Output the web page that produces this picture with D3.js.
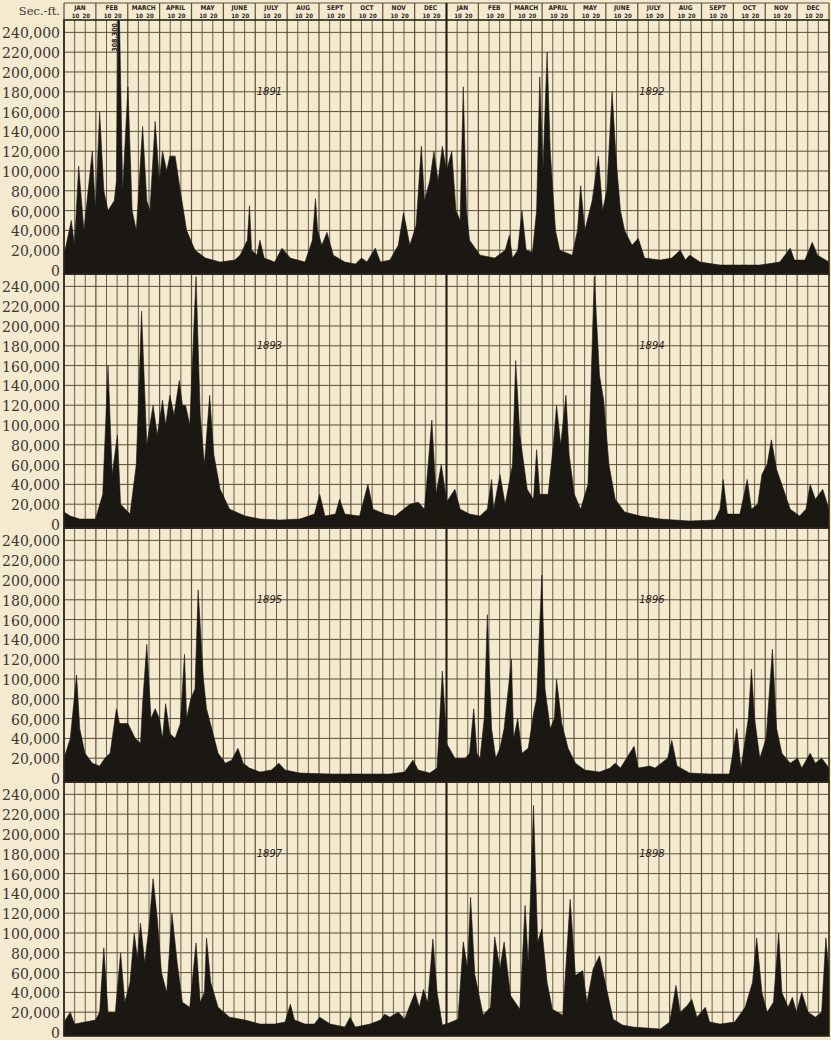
<!DOCTYPE html>
<html lang="en">
<head>
<meta charset="UTF-8">
<title>Daily discharge 1891-1898</title>
<style>
  body { margin:0; background:#f4ead0; }
  svg { display:block; }
</style>
</head>
<body>
<div class="chart"></div>
<script src="https://d3js.org/d3.v7.min.js"></script>
<script>
const months = ['JAN','FEB','MARCH','APRIL','MAY','JUNE','JULY','AUG','SEPT','OCT','NOV','DEC'];
const subTicks = ['10','20'];
const yTicks = [0,20000,40000,60000,80000,100000,120000,140000,160000,180000,200000,220000,240000];
const panelYears = [[1891,1892],[1893,1894],[1895,1896],[1897,1898]];

// [day of year, discharge in thousand sec-ft]
const flow1891 = [[0,15],[7,50],[10,25],[14,105],[19,40],[27,120],[30,60],[34,160],[38,80],[42,60],[48,70],[50,90],[52,308.3],[56,80],[61,185],[65,60],[69,40],[75,145],[79,70],[82,60],[87,150],[91,90],[94,120],[98,100],[101,115],[106,115],[111,80],[117,40],[125,20],[135,12],[149,8],[163,10],[168,15],[175,30],[177,65],[179,20],[184,15],[187,30],[191,12],[201,8],[208,22],[216,12],[230,8],[237,30],[240,72],[242,40],[246,25],[251,38],[257,15],[268,8],[278,6],[284,12],[289,8],[297,22],[302,8],[311,10],[319,25],[324,58],[330,25],[336,45],[341,125],[344,70],[349,90],[353,120],[357,90],[361,125],[365,100]];
const flow1892 = [[0,100],[5,120],[9,60],[13,50],[16,185],[19,60],[22,30],[32,15],[46,12],[56,20],[60,35],[63,12],[68,20],[72,60],[76,20],[82,18],[86,60],[89,195],[92,100],[96,220],[99,120],[104,40],[108,20],[120,15],[125,40],[128,85],[132,40],[139,70],[145,115],[149,60],[153,80],[158,180],[162,110],[166,60],[170,40],[177,25],[183,32],[189,12],[204,10],[215,12],[223,20],[228,10],[232,15],[242,8],[261,5],[299,5],[318,8],[328,22],[332,10],[342,10],[349,28],[354,15],[365,8]];
const flow1893 = [[0,12],[6,8],[15,5],[30,5],[37,30],[42,160],[46,50],[51,90],[54,20],[63,10],[69,60],[74,215],[79,80],[85,120],[89,90],[94,125],[97,100],[101,130],[105,110],[110,145],[113,120],[116,120],[120,100],[126,250],[130,110],[134,60],[139,130],[143,70],[149,35],[158,15],[173,8],[187,5],[206,4],[225,5],[239,10],[244,30],[249,8],[259,10],[263,25],[268,10],[282,8],[290,40],[295,15],[306,10],[316,8],[330,20],[338,22],[344,15],[351,105],[355,30],[360,60],[365,25]];
const flow1894 = [[0,22],[8,35],[13,15],[22,10],[32,8],[39,15],[43,45],[45,15],[51,50],[56,20],[63,60],[66,165],[70,90],[77,35],[83,25],[86,75],[89,30],[97,30],[102,80],[105,120],[109,80],[114,130],[117,70],[122,30],[128,15],[135,40],[141,250],[146,150],[150,125],[155,60],[161,25],[170,12],[185,8],[204,5],[232,3],[256,4],[261,15],[264,45],[268,10],[280,10],[287,45],[291,15],[297,20],[301,50],[306,60],[310,85],[315,55],[320,40],[328,15],[337,8],[343,15],[347,40],[352,25],[359,35],[365,15]];
const flow1895 = [[0,20],[6,40],[12,104],[15,50],[20,25],[27,15],[34,12],[39,20],[44,25],[50,70],[53,55],[61,55],[68,40],[73,35],[75,75],[79,135],[83,60],[87,70],[91,60],[94,40],[97,75],[101,45],[106,40],[111,55],[115,125],[117,60],[121,80],[125,90],[128,190],[133,100],[136,70],[141,50],[147,25],[154,15],[160,18],[166,30],[171,15],[177,10],[187,6],[198,8],[205,15],[211,8],[225,5],[254,4],[282,4],[311,4],[325,6],[333,18],[338,8],[349,5],[356,10],[361,108],[365,40]];
const flow1896 = [[0,35],[8,20],[18,20],[22,25],[26,70],[29,25],[32,20],[36,60],[39,165],[43,50],[47,20],[51,30],[55,50],[62,120],[64,40],[68,60],[72,25],[78,30],[83,65],[86,80],[91,205],[94,90],[99,50],[103,60],[105,100],[110,55],[116,30],[123,15],[132,8],[146,6],[156,10],[161,15],[166,10],[173,22],[179,32],[183,10],[194,12],[199,10],[211,20],[215,38],[220,12],[232,5],[251,4],[270,4],[277,50],[281,10],[288,60],[291,110],[294,60],[299,20],[305,40],[311,130],[315,50],[320,25],[328,15],[335,20],[339,10],[347,25],[352,15],[358,20],[365,10]];
const flow1897 = [[0,10],[6,20],[10,8],[20,10],[30,12],[34,20],[38,85],[42,20],[49,20],[54,80],[58,30],[63,50],[67,100],[70,75],[73,110],[77,70],[81,105],[85,155],[89,115],[93,60],[98,40],[103,120],[108,70],[113,30],[120,25],[126,90],[130,30],[134,40],[136,95],[140,50],[147,25],[158,15],[173,12],[187,8],[201,8],[211,10],[216,28],[220,12],[230,8],[239,8],[244,15],[254,8],[268,5],[273,15],[278,5],[292,8],[302,12],[306,18],[311,15],[319,20],[325,13],[335,40],[339,25],[343,43],[347,30],[352,94],[356,40],[361,7],[365,8]];
const flow1898 = [[0,8],[11,13],[16,91],[20,65],[23,136],[27,58],[35,17],[42,25],[46,96],[51,64],[55,91],[61,37],[70,23],[75,128],[78,70],[83,229],[87,91],[91,104],[96,50],[101,23],[111,17],[118,134],[123,57],[130,62],[134,30],[140,64],[146,77],[150,57],[159,13],[168,7],[178,5],[204,3],[213,10],[219,47],[223,20],[230,27],[234,33],[239,15],[247,25],[251,10],[261,8],[275,10],[285,25],[292,50],[296,95],[301,40],[306,20],[312,30],[317,100],[320,40],[326,25],[330,35],[334,20],[339,40],[345,20],[352,15],[358,20],[362,95],[365,60]];

const flows = {1891: flow1891, 1892: flow1892, 1893: flow1893, 1894: flow1894,
               1895: flow1895, 1896: flow1896, 1897: flow1897, 1898: flow1898};

const width = 831, height = 1040;
const left = 64, right = 829,
      headTop = 3, headBottom = 20,
      panelH = 254;
const paper = '#f4ead0', ink = '#1b1712', gridCol = '#5e4e38';

const svg = d3.select('.chart')
        .append('svg')
        .attr('width', width)
        .attr('height', height);

svg.append('rect')
   .attr('width', width).attr('height', height)
   .attr('fill', paper);

// days for the data, months for the ruling
const xDay = d3.scaleLinear().domain([0, 730]).range([left, right]);
const xMonth = d3.scaleLinear().domain([0, 24]).range([left, right]);
const allMonths = months.concat(months);

// header boxes
const head = svg.append('g');
head.selectAll('.mname')
    .data(allMonths)
    .join('text')
    .attr('class', 'mname')
    .attr('x', (d,i) => xMonth(i + 0.5))
    .attr('y', headTop + 7)
    .attr('text-anchor', 'middle')
    .attr('font-family', 'DejaVu Sans Condensed, DejaVu Sans, sans-serif')
    .attr('font-weight', 'bold')
    .attr('font-size', 6.5)
    .attr('fill', '#2a241c')
    .text(d => d);

head.selectAll('.sub')
    .data(d3.range(48))
    .join('text')
    .attr('class', 'sub')
    .attr('x', i => xMonth(Math.floor(i/2) + (i % 2 + 1)/3) + 1)
    .attr('y', headTop + 15)
    .attr('text-anchor', 'middle')
    .attr('font-family', 'DejaVu Sans Condensed, DejaVu Sans, sans-serif')
    .attr('font-weight', 'bold')
    .attr('font-size', 6)
    .attr('fill', '#2a241c')
    .text(i => subTicks[i % 2]);

head.selectAll('.mline')
    .data(d3.range(25))
    .join('line')
    .attr('class', 'mline')
    .attr('x1', d => xMonth(d)).attr('x2', d => xMonth(d))
    .attr('y1', headTop).attr('y2', headBottom)
    .attr('stroke', gridCol).attr('stroke-width', 1.2);

head.append('line')
    .attr('x1', left).attr('x2', right)
    .attr('y1', headTop).attr('y2', headTop)
    .attr('stroke', gridCol).attr('stroke-width', 1.2);

svg.append('text')
   .attr('x', 60).attr('y', 15)
   .attr('text-anchor', 'end')
   .attr('font-family', 'DejaVu Serif, serif')
   .attr('font-size', 11.5)
   .attr('fill', '#3a3530')
   .text('Sec.-ft.');

const fmt = d3.format(',');

panelYears.forEach((years, i) => {
  const top = headBottom + i * panelH;
  const bottom = top + panelH;
  const y = d3.scaleLinear()
              .domain([0, 252500])
              .range([bottom - 4, top]);

  const g = svg.append('g');

  svg.append('clipPath')
     .attr('id', 'clip' + i)
     .append('rect')
     .attr('x', left).attr('y', top)
     .attr('width', right - left).attr('height', panelH);

  // vertical ruling: 1st, 10th, 20th of each month
  g.append('g')
   .selectAll('line')
   .data(d3.range(72))
   .join('line')
   .attr('x1', d => xMonth(d/3)).attr('x2', d => xMonth(d/3))
   .attr('y1', top).attr('y2', bottom)
   .attr('stroke', gridCol)
   .attr('stroke-width', d => d % 3 === 0 ? 1.2 : 0.9);

  // horizontal ruling
  g.append('g')
   .selectAll('line')
   .data(yTicks)
   .join('line')
   .attr('x1', left).attr('x2', right)
   .attr('y1', d => y(d)).attr('y2', d => y(d))
   .attr('stroke', gridCol)
   .attr('stroke-width', 1);

  const pts = flows[years[0]].map(d => [d[0], d[1] * 1000])
      .concat(flows[years[1]].map(d => [d[0] + 365, d[1] * 1000]));

  const area = d3.area()
          .x(d => xDay(d[0]))
          .y0(bottom)
          .y1(d => y(d[1]));

  g.append('path')
   .datum(pts)
   .attr('clip-path', `url(#clip${i})`)
   .attr('fill', ink)
   .attr('stroke', ink)
   .attr('stroke-width', 0.6)
   .attr('d', area);

  // panel frame
  g.append('rect')
   .attr('x', left).attr('y', top)
   .attr('width', right - left).attr('height', panelH)
   .attr('fill', 'none')
   .attr('stroke', '#2a2218')
   .attr('stroke-width', 1.6);

  // y axis labels
  const yAxis = d3.axisLeft(y)
          .tickValues(yTicks)
          .tickFormat(fmt)
          .tickSize(0)
          .tickPadding(0);

  const ya = svg.append('g')
      .attr('transform', `translate(60,1)`)
      .call(yAxis);
  ya.select('.domain').remove();
  ya.selectAll('text')
    .attr('font-family', 'DejaVu Serif, serif')
    .attr('font-size', 14)
    .attr('fill', '#3a3530');

  // year names
  g.selectAll('.year')
   .data(years)
   .join('text')
   .attr('class', 'year')
   .attr('x', (d,k) => xDay(k * 365 + 196))
   .attr('y', y(177000))
   .attr('text-anchor', 'middle')
   .attr('font-family', 'DejaVu Sans, sans-serif')
   .attr('font-style', 'italic')
   .attr('font-size', 10)
   .attr('fill', '#2a241c')
   .text(d => d);

  // off-scale peak note
  if (i === 0) {
    const peak = d3.greatest(flow1891, d => d[1]);
    g.append('text')
     .attr('transform', `translate(${xDay(peak[0]) - 4},${top + 3}) rotate(-90)`)
     .attr('text-anchor', 'end')
     .attr('dy', '0.35em')
     .attr('font-family', 'DejaVu Sans Condensed, DejaVu Sans, sans-serif')
     .attr('font-weight', 'bold')
     .attr('font-size', 7)
     .attr('fill', '#2a241c')
     .text(fmt(peak[1] * 1000));
  }
});

// heavy line between the two years of each row
svg.append('line')
   .attr('x1', xMonth(12)).attr('x2', xMonth(12))
   .attr('y1', headTop).attr('y2', headBottom + 4 * panelH)
   .attr('stroke', '#1e1810')
   .attr('stroke-width', 2);
</script>
</body>
</html>
